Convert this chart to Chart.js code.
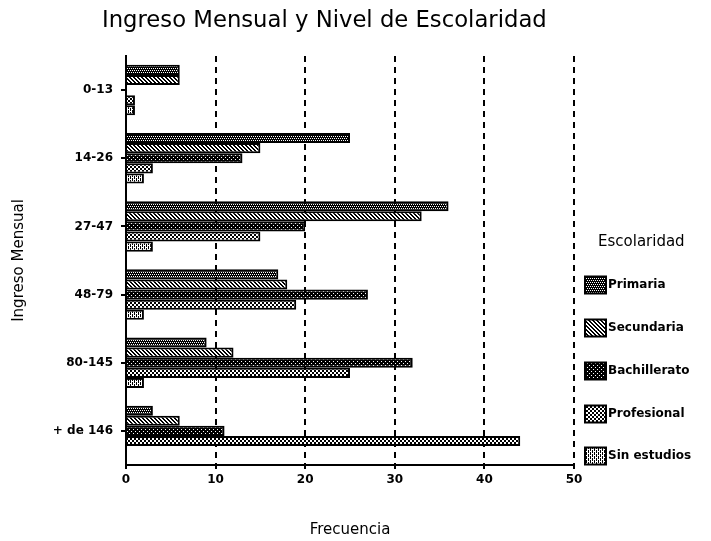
<!DOCTYPE html>
<html><head><meta charset="utf-8">
<script src="https://cdn.jsdelivr.net/npm/chart.js@4/dist/chart.umd.min.js"></script>
<style>html,body{margin:0;padding:0;background:#fff}canvas{display:block}</style>
</head><body>
<canvas id="c" width="711" height="541"></canvas>
<script>
const categories = ['0-13', '14-26', '27-47', '48-79', '80-145', '+ de 146'];
const seriesNames = ['Primaria', 'Secundaria', 'Bachillerato', 'Profesional', 'Sin estudios'];
const primaria     = [6, 25, 36, 17, 9, 3];
const secundaria   = [6, 15, 33, 18, 12, 6];
const bachillerato = [0, 13, 20, 27, 32, 11];
const profesional  = [1, 3, 15, 19, 25, 44];
const sinEstudios  = [1, 2, 3, 2, 2, 0];
const xMin = 0, xMax = 50, xStep = 10;
const chartTitle = 'Ingreso Mensual y Nivel de Escolaridad';
const xTitle = 'Frecuencia';
const yTitle = 'Ingreso Mensual';
const legendTitle = 'Escolaridad';

const FONT = '"DejaVu Sans", sans-serif';

function makePattern(rows) {
  const h = rows.length, w = rows[0].length;
  const cv = document.createElement('canvas');
  cv.width = w; cv.height = h;
  const cx = cv.getContext('2d');
  cx.fillStyle = '#fff'; cx.fillRect(0, 0, w, h);
  cx.fillStyle = '#000';
  for (let y = 0; y < h; y++) for (let x = 0; x < w; x++) if (rows[y][x] === '#') cx.fillRect(x, y, 1, 1);
  return document.getElementById('c').getContext('2d').createPattern(cv, 'repeat');
}
const patterns = [
  makePattern(['#.#.', '####', '.#.#', '####']),          // Primaria: dark dotted
  makePattern(['##..', '.##.', '..##', '#..#']),          // Secundaria: diagonal hatch
  makePattern(['####', '#.##', '####', '###.']),          // Bachillerato: near black
  makePattern(['##..', '##..', '..##', '..##']),          // Profesional: checker
  makePattern(['#.#.', '..#.', '#.#.', '#...'])           // Sin estudios: light dots
];
const seriesData = [primaria, secundaria, bachillerato, profesional, sinEstudios];

const overlay = {
  id: 'overlay',
  afterDraw(chart) {
    const ctx = chart.ctx;
    ctx.save();
    ctx.fillStyle = '#000';
    ctx.textBaseline = 'middle';
    ctx.textAlign = 'left';
    ctx.font = '19px ' + FONT;
    const w = ctx.measureText(chartTitle).width;
    const size = 19 * 445 / w;
    ctx.font = size.toFixed(2) + 'px ' + FONT;
    ctx.fillText(chartTitle, 102, 21);
    ctx.font = '15px ' + FONT;
    ctx.fillText(legendTitle, 598, 242);
    const ys = [285, 328, 371, 414, 456];
    chart.data.datasets.forEach((ds, i) => {
      const yc = ys[i];
      ctx.fillStyle = ds.backgroundColor;
      ctx.fillRect(585, yc - 8.5, 21, 17);
      ctx.strokeStyle = '#000'; ctx.lineWidth = 2;
      ctx.strokeRect(585, yc - 8.5, 21, 17);
      ctx.fillStyle = '#000';
      ctx.font = 'bold 12px ' + FONT;
      ctx.fillText(ds.label, 608, yc);
    });
    ctx.restore();
  }
};

new Chart(document.getElementById('c'), {
  type: 'bar',
  data: {
    labels: categories,
    datasets: seriesNames.map((n, i) => ({
      label: n,
      data: seriesData[i],
      backgroundColor: patterns[i],
      borderColor: '#000',
      borderWidth: 2,
      borderSkipped: 'start',
      barPercentage: 1.0,
      categoryPercentage: 0.74
    }))
  },
  options: {
    indexAxis: 'y',
    responsive: false,
    animation: false,
    devicePixelRatio: 1,
    layout: { padding: { top: 56, right: 137, left: 0, bottom: 0 } },
    plugins: { legend: { display: false }, title: { display: false }, tooltip: { enabled: false } },
    scales: {
      x: {
        type: 'linear', min: xMin, max: xMax,
        ticks: { stepSize: xStep, color: '#000', font: { family: FONT, size: 12, weight: 'bold' }, padding: 4 },
        grid: {
          color: c => (c.tick && c.tick.value === 0) ? 'rgba(0,0,0,0)' : '#000',
          lineWidth: 2, drawTicks: true, tickLength: 4, tickColor: '#000'
        },
        border: { display: true, color: '#000', width: 2, dash: [6, 5] },
        title: { display: true, text: xTitle, color: '#000', font: { family: FONT, size: 15 }, padding: { top: 4, bottom: 2 } },
        afterFit(s) { s.height = 76; }
      },
      y: {
        type: 'category',
        ticks: { color: '#000', font: { family: FONT, size: 12, weight: 'bold' }, padding: 8 },
        grid: { display: true, drawOnChartArea: false, offset: false, drawTicks: true, tickLength: 5, color: '#000', lineWidth: 2 },
        border: { display: true, color: '#000', width: 2 },
        title: { display: true, text: yTitle, color: '#000', font: { family: FONT, size: 15 }, padding: { top: 10, bottom: 4 } },
        afterFit(s) { s.width = 126; }
      }
    }
  },
  plugins: [overlay]
});
</script>
</body></html>
